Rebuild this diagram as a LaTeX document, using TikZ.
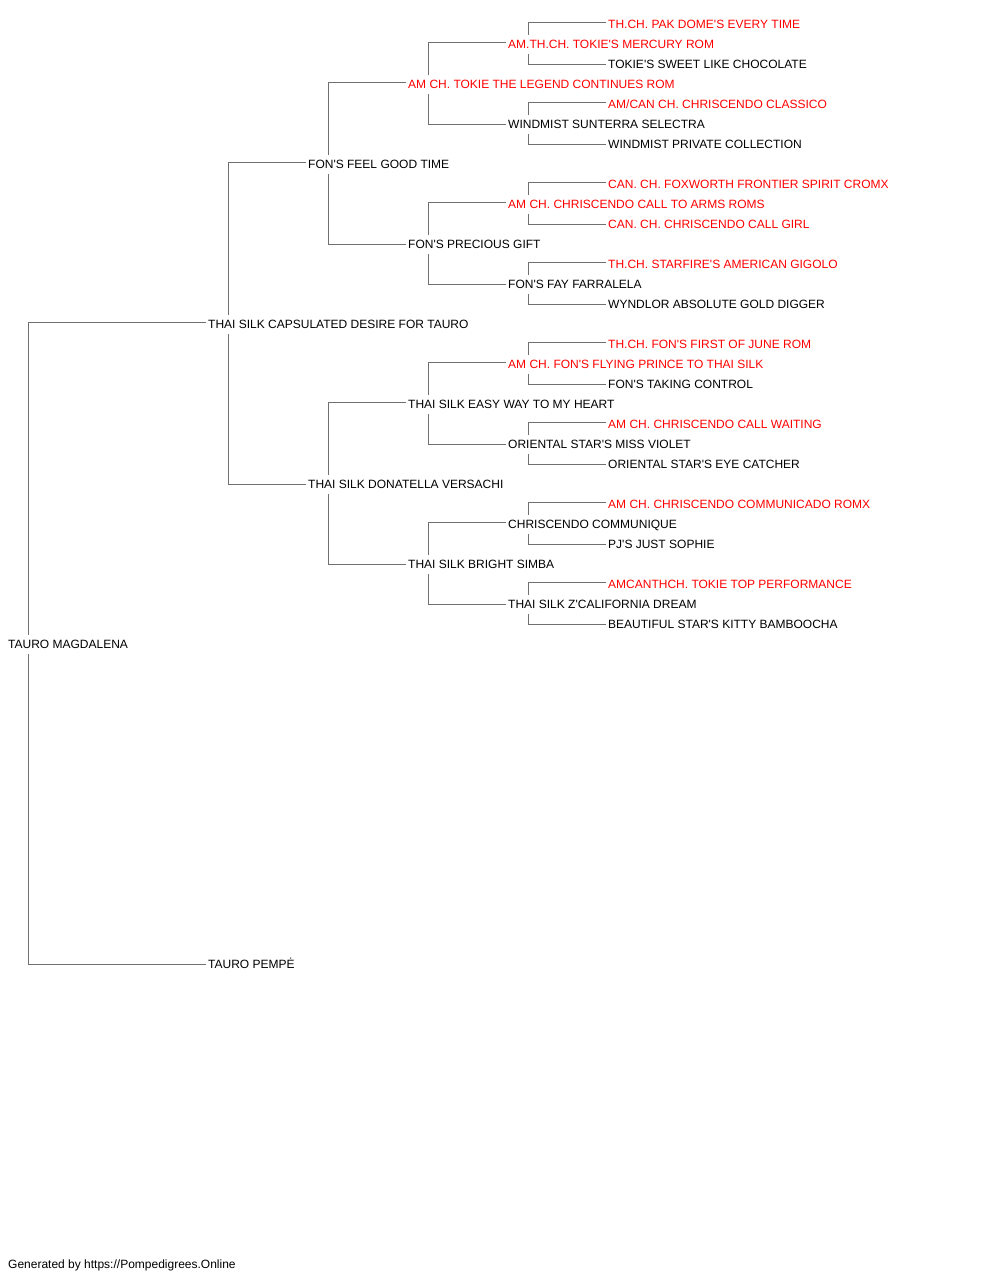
\documentclass[tikz,border=0pt]{standalone}
\usepackage{fontspec}
\setmainfont{Liberation Sans}[Ligatures=TeXOff]
\usepackage{tikz}
\usetikzlibrary{backgrounds}
\definecolor{champred}{RGB}{255,0,0}
\definecolor{linegray}{RGB}{112,112,112}

\begin{document}
\begin{tikzpicture}[x=1pt,y=-1pt]
\tikzstyle{dog}=[anchor=west, fill=white, inner xsep=2pt, inner ysep=4.5pt, text height=9pt, text depth=1pt, font=\fontsize{12}{14}\selectfont]
\tikzstyle{champ}=[dog, text=champred]
\tikzstyle{link}=[draw=linegray, line width=1.2pt]

	\useasboundingbox (0,0) rectangle (1000,1280);

	% root and parents
	\node[dog] (r) at (6,644) {TAURO MAGDALENA};
	\node[dog] (rs) at (206,324) {THAI SILK CAPSULATED DESIRE FOR TAURO};
	\node[dog] (rd) at (206,964) {TAURO PEMP\.E};

	% grandparents
	\node[dog] (rss) at (306,164) {FON'S FEEL GOOD TIME};
	\node[dog] (rsd) at (306,484) {THAI SILK DONATELLA VERSACHI};

	% great grandparents
	\node[champ] (rsss) at (406,84) {AM CH. TOKIE THE LEGEND CONTINUES ROM};
	\node[dog] (rssd) at (406,244) {FON'S PRECIOUS GIFT};
	\node[dog] (rsds) at (406,404) {THAI SILK EASY WAY TO MY HEART};
	\node[dog] (rsdd) at (406,564) {THAI SILK BRIGHT SIMBA};

	% 4th generation
	\node[champ] (rssss) at (506,44) {AM.TH.CH. TOKIE'S MERCURY ROM};
	\node[dog] (rsssd) at (506,124) {WINDMIST SUNTERRA SELECTRA};
	\node[champ] (rssds) at (506,204) {AM CH. CHRISCENDO CALL TO ARMS ROMS};
	\node[dog] (rssdd) at (506,284) {FON'S FAY FARRALELA};
	\node[champ] (rsdss) at (506,364) {AM CH. FON'S FLYING PRINCE TO THAI SILK};
	\node[dog] (rsdsd) at (506,444) {ORIENTAL STAR'S MISS VIOLET};
	\node[dog] (rsdds) at (506,524) {CHRISCENDO COMMUNIQUE};
	\node[dog] (rsddd) at (506,604) {THAI SILK Z'CALIFORNIA DREAM};

	% 5th generation
	\node[champ] (rsssss) at (606,24) {TH.CH. PAK DOME'S EVERY TIME};
	\node[dog] (rssssd) at (606,64) {TOKIE'S SWEET LIKE CHOCOLATE};
	\node[champ] (rsssds) at (606,104) {AM/CAN CH. CHRISCENDO CLASSICO};
	\node[dog] (rsssdd) at (606,144) {WINDMIST PRIVATE COLLECTION};
	\node[champ] (rssdss) at (606,184) {CAN. CH. FOXWORTH FRONTIER SPIRIT CROMX};
	\node[champ] (rssdsd) at (606,224) {CAN. CH. CHRISCENDO CALL GIRL};
	\node[champ] (rssdds) at (606,264) {TH.CH. STARFIRE'S AMERICAN GIGOLO};
	\node[dog] (rssddd) at (606,304) {WYNDLOR ABSOLUTE GOLD DIGGER};
	\node[champ] (rsdsss) at (606,344) {TH.CH. FON'S FIRST OF JUNE ROM};
	\node[dog] (rsdssd) at (606,384) {FON'S TAKING CONTROL};
	\node[champ] (rsdsds) at (606,424) {AM CH. CHRISCENDO CALL WAITING};
	\node[dog] (rsdsdd) at (606,464) {ORIENTAL STAR'S EYE CATCHER};
	\node[champ] (rsddss) at (606,504) {AM CH. CHRISCENDO COMMUNICADO ROMX};
	\node[dog] (rsddsd) at (606,544) {PJ'S JUST SOPHIE};
	\node[champ] (rsddds) at (606,584) {AMCANTHCH. TOKIE TOP PERFORMANCE};
	\node[dog] (rsdddd) at (606,624) {BEAUTIFUL STAR'S KITTY BAMBOOCHA};

	\node[dog] (footer) at (6,1264) {Generated by https://Pompedigrees.Online};

	% forks sit 22pt right of each parent
	\foreach \p in {r,rs,rss,rsd,rsss,rssd,rsds,rsdd,rssss,rsssd,rssds,rssdd,rsdss,rsdsd,rsdds,rsddd}
		\path (\p.west) ++(22.5,0) coordinate (j\p);

	\begin{pgfonlayer}{background}
	\foreach \p in {r,rs,rss,rsd,rsss,rssd,rsds,rsdd,rssss,rsssd,rssds,rssdd,rsdss,rsdsd,rsdds,rsddd}
		\draw[link] ([yshift=1.5pt]\p s.west) -| (j\p) |- ([yshift=-0.5pt]\p d.west);
	\end{pgfonlayer}

\end{tikzpicture}
\end{document}
